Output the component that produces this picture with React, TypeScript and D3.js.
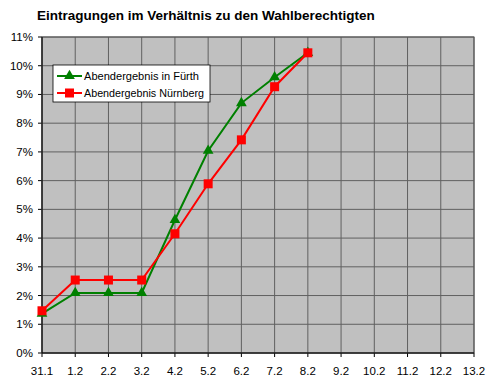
import React from 'react';
import * as d3 from 'd3';

const categories = ['31.1', '1.2', '2.2', '3.2', '4.2', '5.2', '6.2', '7.2', '8.2', '9.2', '10.2', '11.2', '12.2', '13.2'];
const fuerth = [1.37, 2.09, 2.09, 2.09, 4.63, 7.04, 8.7, 9.6, 10.45];
const nuernberg = [1.47, 2.54, 2.54, 2.54, 4.15, 5.89, 7.42, 9.27, 10.45];
const yTicks = d3.range(0, 12);

const W = 494;
const H = 389;
const m = { left: 42, right: 474, top: 37, bottom: 353 };

const App: React.FC = () => {
  const x = d3.scalePoint<string>().domain(categories).range([m.left, m.right]);
  const y = d3.scaleLinear().domain([0, 11]).range([m.bottom, m.top]);
  const line = d3.line<number>().x((_, i) => x(categories[i])!).y(d => y(d));
  const font = 'Arial, "Liberation Sans", sans-serif';

  return (
    <svg width={W} height={H} style={{ position: 'absolute', left: 0, top: 0, fontFamily: font }}>
      <rect x={0} y={0} width={W} height={H} fill="#fff" />
      <text x={37} y={20} fontSize={13.5} fontWeight="bold" fill="#000">Eintragungen im Verhältnis zu den Wahlberechtigten</text>
      <rect x={m.left} y={m.top} width={m.right - m.left} height={m.bottom - m.top} fill="#c0c0c0" />
      {yTicks.map(t => (
        <g key={'y' + t}>
          <line x1={m.left} x2={m.right} y1={y(t)} y2={y(t)} stroke="#606060" strokeWidth={1} />
          <line x1={m.left - 4} x2={m.left} y1={y(t)} y2={y(t)} stroke="#000" />
          <text x={m.left - 9} y={y(t) + 4} fontSize={11.5} textAnchor="end" fill="#000">{t}%</text>
        </g>
      ))}
      {categories.map(c => (
        <g key={'x' + c}>
          <line x1={x(c)} x2={x(c)} y1={m.top} y2={m.bottom} stroke="#606060" strokeWidth={1} />
          <line x1={x(c)} x2={x(c)} y1={m.bottom} y2={m.bottom + 4} stroke="#000" />
          <text x={x(c)} y={m.bottom + 22} fontSize={11.5} textAnchor="middle" fill="#000">{c}</text>
        </g>
      ))}
      <rect x={m.left} y={m.top} width={m.right - m.left} height={m.bottom - m.top} fill="none" stroke="#555" />
      <line x1={m.left} x2={m.left} y1={m.top} y2={m.bottom} stroke="#000" />
      <line x1={m.left} x2={m.right} y1={m.bottom} y2={m.bottom} stroke="#000" />

      <path d={line(fuerth)!} fill="none" stroke="#008000" strokeWidth={2} />
      <path d={line(nuernberg)!} fill="none" stroke="#ff0000" strokeWidth={2} />
      {fuerth.map((v, i) => (
        <path key={'f' + i} d={d3.symbol(d3.symbolTriangle, 50)()!} transform={`translate(${x(categories[i])},${y(v)})`} fill="#008000" />
      ))}
      {nuernberg.map((v, i) => (
        <rect key={'n' + i} x={x(categories[i])! - 4.5} y={y(v) - 4.5} width={9} height={9} fill="#ff0000" />
      ))}

      <g transform="translate(53,65)">
        <rect x={0} y={0} width={157} height={37} fill="#fff" stroke="#000" strokeWidth={0.8} />
        <line x1={4} x2={29} y1={11} y2={11} stroke="#008000" strokeWidth={2} />
        <path d={d3.symbol(d3.symbolTriangle, 50)()!} transform="translate(16.5,11)" fill="#008000" />
        <text x={31} y={15} fontSize={11.5} textLength={115} lengthAdjust="spacingAndGlyphs" fill="#000">Abendergebnis in Fürth</text>
        <line x1={4} x2={29} y1={28} y2={28} stroke="#ff0000" strokeWidth={2} />
        <rect x={12} y={23.5} width={9} height={9} fill="#ff0000" />
        <text x={31} y={32} fontSize={11.5} textLength={120} lengthAdjust="spacingAndGlyphs" fill="#000">Abendergebnis Nürnberg</text>
      </g>
    </svg>
  );
};

export default App;
